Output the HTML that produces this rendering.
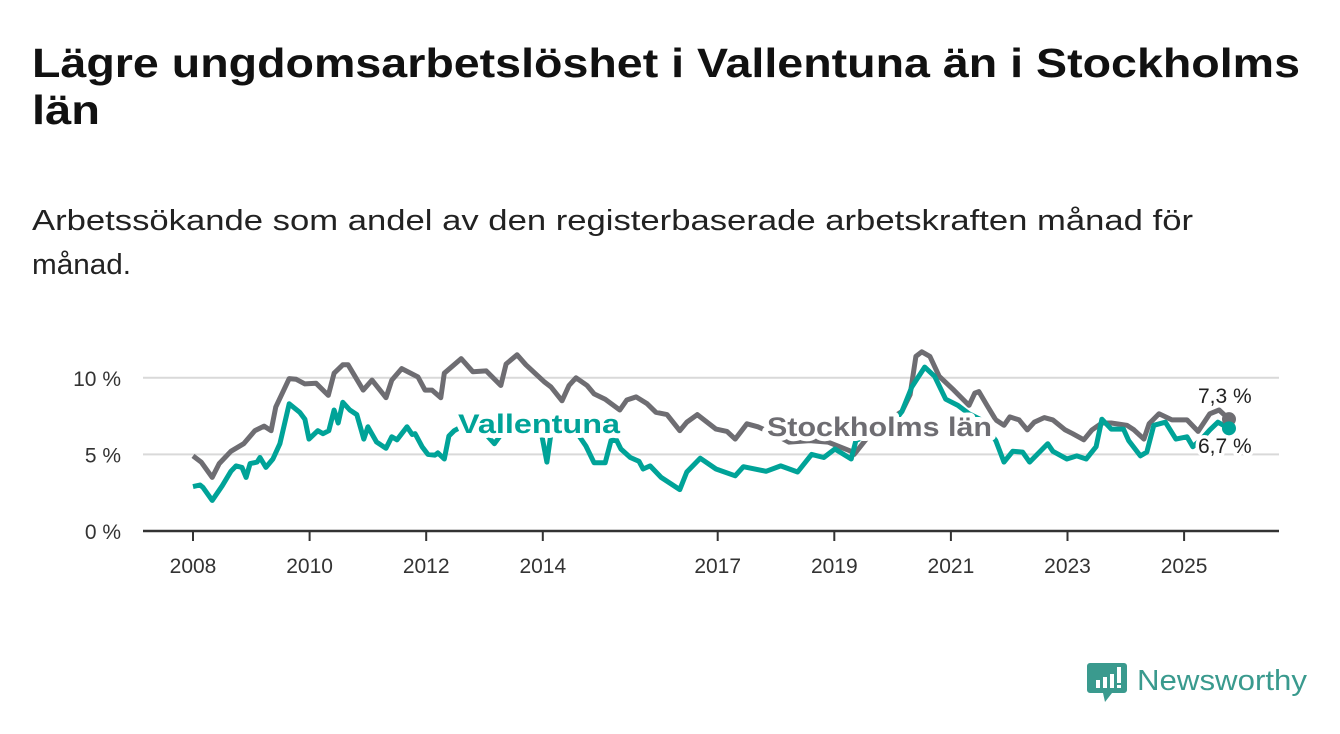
<!DOCTYPE html>
<html><head><meta charset="utf-8"><style>
html,body{margin:0;padding:0;background:#fff;}
svg{display:block;font-family:"Liberation Sans",sans-serif;}
</style></head><body>
<svg id="chart" width="1340" height="734" viewBox="0 0 1340 734" xmlns="http://www.w3.org/2000/svg">
<text x="32" y="77" font-size="41" font-weight="bold" fill="#111" textLength="1268" lengthAdjust="spacingAndGlyphs">Lägre ungdomsarbetslöshet i Vallentuna än i Stockholms</text>
<text x="32" y="124" font-size="41" font-weight="bold" fill="#111" textLength="68" lengthAdjust="spacingAndGlyphs">län</text>
<text x="32" y="230" font-size="29" fill="#222" textLength="1161" lengthAdjust="spacingAndGlyphs">Arbetssökande som andel av den registerbaserade arbetskraften månad för</text>
<text x="32" y="274" font-size="29" fill="#222" textLength="99" lengthAdjust="spacingAndGlyphs">månad.</text>
<g id="grid"></g><g id="lines"></g><g id="labels"></g>
<g>
<path d="M1090 663 h34 a3 3 0 0 1 3 3 v24 a3 3 0 0 1 -3 3 h-12 l-7 9 l-2 -9 h-13 a3 3 0 0 1 -3 -3 v-24 a3 3 0 0 1 3 -3z" fill="#3a9a8e"/>
<rect x="1096" y="680" width="4" height="8" fill="#fff"/><rect x="1103" y="677" width="4" height="11" fill="#fff"/><rect x="1110" y="674" width="4" height="14" fill="#fff"/><rect x="1117" y="667" width="4" height="16" fill="#fff"/><rect x="1117" y="685" width="4" height="3" fill="#fff"/>
<text x="1137" y="690" font-size="29" fill="#3a9a8e" textLength="170" lengthAdjust="spacingAndGlyphs">Newsworthy</text>
</g>
</svg>
<script>
const stockYears=[2008.0,2008.14,2008.33,2008.45,2008.65,2008.87,2009.06,2009.22,2009.34,2009.42,2009.65,2009.77,2009.92,2010.11,2010.32,2010.42,2010.57,2010.66,2010.92,2011.07,2011.31,2011.41,2011.58,2011.86,2011.98,2012.10,2012.25,2012.31,2012.60,2012.80,2013.03,2013.28,2013.37,2013.56,2013.71,2014.02,2014.14,2014.33,2014.45,2014.57,2014.76,2014.88,2015.07,2015.32,2015.44,2015.60,2015.79,2015.94,2016.13,2016.35,2016.47,2016.65,2016.97,2017.16,2017.30,2017.50,2017.69,2017.93,2018.22,2018.58,2018.89,2019.29,2019.34,2019.61,2019.96,2020.16,2020.30,2020.40,2020.50,2020.64,2020.80,2021.05,2021.31,2021.41,2021.48,2021.62,2021.77,2021.91,2022.01,2022.17,2022.31,2022.43,2022.60,2022.75,2022.96,2023.09,2023.28,2023.42,2023.59,2023.75,2024.02,2024.14,2024.31,2024.40,2024.57,2024.79,2025.05,2025.24,2025.44,2025.60,2025.77];
const stockValues=[4.9,4.5,3.5,4.4,5.2,5.7,6.55,6.85,6.55,8.1,9.95,9.9,9.6,9.65,8.85,10.3,10.85,10.85,9.2,9.85,8.7,9.85,10.6,10.05,9.2,9.2,8.7,10.3,11.25,10.4,10.45,9.5,10.9,11.5,10.85,9.75,9.4,8.5,9.5,10.0,9.5,8.95,8.6,7.9,8.55,8.75,8.3,7.75,7.6,6.55,7.1,7.6,6.65,6.5,6.0,7.0,6.8,6.4,5.8,5.9,5.8,5.2,5.0,6.3,7.3,7.8,8.9,11.4,11.7,11.4,10.1,9.2,8.2,9.0,9.1,8.2,7.25,6.9,7.45,7.25,6.6,7.1,7.4,7.25,6.6,6.35,5.95,6.6,7.05,7.05,6.9,6.6,6.0,7.0,7.65,7.25,7.25,6.5,7.65,7.9,7.3];
const valYears=[2008.0,2008.12,2008.17,2008.33,2008.5,2008.65,2008.74,2008.84,2008.91,2008.98,2009.10,2009.15,2009.25,2009.37,2009.49,2009.65,2009.83,2009.92,2009.99,2010.14,2010.23,2010.33,2010.42,2010.49,2010.57,2010.69,2010.81,2010.93,2011.0,2011.15,2011.31,2011.41,2011.5,2011.67,2011.76,2011.81,2011.93,2012.03,2012.15,2012.20,2012.31,2012.39,2012.48,2012.7,2012.9,2013.05,2013.17,2013.4,2013.7,2013.95,2014.07,2014.16,2014.4,2014.55,2014.74,2014.88,2015.07,2015.17,2015.26,2015.34,2015.5,2015.65,2015.72,2015.84,2016.03,2016.35,2016.47,2016.7,2016.97,2017.30,2017.44,2017.83,2018.08,2018.37,2018.61,2018.82,2019.01,2019.29,2019.37,2019.7,2020.0,2020.16,2020.33,2020.55,2020.72,2020.91,2021.12,2021.31,2021.5,2021.77,2021.91,2022.06,2022.23,2022.35,2022.66,2022.75,2022.99,2023.16,2023.32,2023.49,2023.59,2023.75,2023.96,2024.05,2024.25,2024.36,2024.48,2024.68,2024.86,2025.05,2025.15,2025.3,2025.44,2025.58,2025.77];
const valValues=[2.9,3.0,2.85,2.0,2.95,3.9,4.25,4.15,3.5,4.4,4.5,4.8,4.15,4.7,5.7,8.3,7.75,7.3,6.0,6.55,6.35,6.55,7.9,7.05,8.4,7.9,7.6,6.0,6.8,5.8,5.4,6.15,5.95,6.8,6.3,6.35,5.5,5.0,4.95,5.1,4.7,6.2,6.55,7.0,6.9,6.2,5.7,6.9,7.0,6.9,4.5,6.9,7.0,6.6,5.55,4.45,4.45,5.9,5.95,5.35,4.8,4.55,4.05,4.25,3.5,2.7,3.85,4.75,4.05,3.6,4.2,3.9,4.25,3.85,5.0,4.8,5.35,4.7,5.9,6.5,7.0,7.8,9.4,10.7,10.1,8.6,8.2,7.65,7.3,5.9,4.5,5.2,5.15,4.5,5.7,5.2,4.7,4.9,4.7,5.5,7.3,6.65,6.65,5.9,4.9,5.15,6.9,7.1,6.0,6.15,5.5,6.0,6.6,7.1,6.7];
const yTicks=[0,5,10];
const yTickLabels=["0 %","5 %","10 %"];
const xTicks=[2008,2010,2012,2014,2017,2019,2021,2023,2025];
const xTickLabels=["2008","2010","2012","2014","2017","2019","2021","2023","2025"];
const endLabels=["7,3 %","6,7 %"];

const NS="http://www.w3.org/2000/svg";
const X=t=>193+(t-2008)*58.3;
const Y=v=>531-v*15.32;
function mk(tag,attrs,parent,text){const e=document.createElementNS(NS,tag);for(const k in attrs)e.setAttribute(k,attrs[k]);if(text!==undefined)e.textContent=text;parent.appendChild(e);return e;}
const grid=document.getElementById('grid'),lines=document.getElementById('lines'),labels=document.getElementById('labels');
yTicks.forEach((v,i)=>{
  if(v>0){const g=mk('line',{x1:143,x2:1279,y1:Y(v),y2:Y(v),stroke:'#d9d9d9','stroke-width':2},grid);
  
  }
  const t=mk('text',{x:121,y:Y(v)+8,'text-anchor':'end','font-size':21,fill:'#333'},grid,yTickLabels[i]);
  
  
});
const ax=mk('line',{x1:143,x2:1279,y1:531,y2:531,stroke:'#333','stroke-width':2.5},grid);


xTicks.forEach((t,i)=>{
  const tk=mk('line',{x1:X(t),x2:X(t),y1:531,y2:541,stroke:'#333','stroke-width':2},grid);
  
  
  const l=mk('text',{x:X(t),y:573,'text-anchor':'middle','font-size':21,fill:'#333'},grid,xTickLabels[i]);
  
  
});
function path(ys,vs){return ys.map((t,i)=>(i?'L':'M')+X(t).toFixed(1)+' '+Y(vs[i]).toFixed(1)).join(' ');}
const gp=mk('path',{d:path(stockYears,stockValues),fill:'none',stroke:'#6e6d72','stroke-width':5,'stroke-linejoin':'round'},lines);


const tp=mk('path',{d:path(valYears,valValues),fill:'none',stroke:'#00a398','stroke-width':5,'stroke-linejoin':'round'},lines);


const gl=stockYears.length-1,vl=valYears.length-1;
const gd=mk('circle',{cx:X(stockYears[gl]),cy:Y(stockValues[gl]),r:7,fill:'#6e6d72'},lines);


const td=mk('circle',{cx:X(valYears[vl]),cy:Y(valValues[vl]),r:7,fill:'#00a398'},lines);


const halo={stroke:'#fff','stroke-width':10,'paint-order':'stroke','stroke-linejoin':'round'};
function lab(x,y,txt,attrs){const o=Object.assign({x:x,y:y},halo,attrs);return mk('text',o,labels,txt);}
const l1=lab(458,433,'Vallentuna',{'font-size':27,'font-weight':'bold',fill:'#00a398',textLength:162,lengthAdjust:'spacingAndGlyphs'});


const l2=lab(767,436,'Stockholms län',{'font-size':27,'font-weight':'bold',fill:'#6e6d72',textLength:225,lengthAdjust:'spacingAndGlyphs'});


const l3=lab(1198,403,endLabels[0],{'font-size':21,fill:'#222','stroke-width':7});


const l4=lab(1198,453,endLabels[1],{'font-size':21,fill:'#222','stroke-width':7});


</script>
</body></html>
